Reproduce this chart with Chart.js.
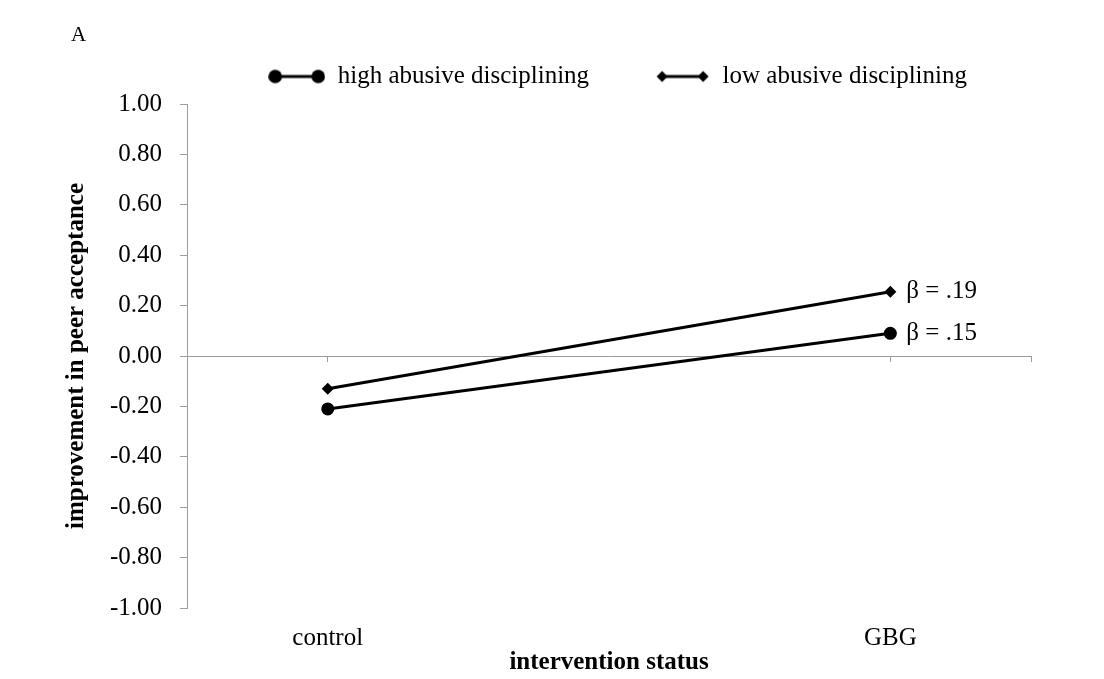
<!DOCTYPE html>
<html>
<head>
<meta charset="utf-8">
<script src="https://cdn.jsdelivr.net/npm/chart.js@4.4.1/dist/chart.umd.min.js"></script>
<style>
    html, body { margin: 0; padding: 0; background: #fff; }
    #wrap { width: 1104px; height: 679px; position: relative; }
</style>
</head>
<body>
<div id="wrap"><canvas id="chart"></canvas></div>
<script>
// x categories
const categories = ["control", "GBG"];
// y ticks
const yTicks = [-1.0, -0.8, -0.6, -0.4, -0.2, 0.0, 0.2, 0.4, 0.6, 0.8, 1.0];
// series
const seriesNames = ["high abusive disciplining", "low abusive disciplining"];
const highAbusive = [-0.21, 0.09];
const lowAbusive = [-0.13, 0.255];
// slope labels next to the GBG points
const betaLabels = ["β = .15", "β = .19"];
const panelLabel = "A";
const xTitle = "intervention status";
const yTitle = "improvement in peer acceptance";

const FONT = "'Liberation Serif', 'Times New Roman', serif";
const GRAY = "#9d9d9d";

// legend marker: line with a symbol on both ends
function legendMarker(style) {
    const c = document.createElement("canvas");
    c.width = 57;
    c.height = 16;
    const g = c.getContext("2d");
    g.strokeStyle = "#000";
    g.fillStyle = "#000";
    g.lineWidth = 3;
    g.beginPath();
    g.moveTo(7, 8);
    g.lineTo(50, 8);
    g.stroke();
    const ends = style === "circle" ? [7, 50] : [9, 50];
    ends.forEach(x => {
        g.beginPath();
        if (style === "circle") {
            g.arc(x, 8, 6.8, 0, Math.PI * 2);
        } else {
            g.moveTo(x, 2.5);
            g.lineTo(x + 5.5, 8);
            g.lineTo(x, 13.5);
            g.lineTo(x - 5.5, 8);
            g.closePath();
        }
        g.fill();
    });
    return c;
}
const markers = [legendMarker("circle"), legendMarker("diamond")];

// a bit more room under the legend
const legendGap = {
    id: "legendGap",
    beforeLayout(chart) {
        const lg = chart.legend;
        if (lg && !lg._gapPatched) {
            const fit = lg.fit;
            lg.fit = function () { fit.call(this); this.height += 5; };
            lg._gapPatched = true;
        }
    }
};

// panel letter and beta labels
const textLabels = {
    id: "textLabels",
    afterDatasetsDraw(chart) {
        const ctx = chart.ctx;
        ctx.save();
        ctx.fillStyle = "#000";
        ctx.font = "21px " + FONT;
        ctx.textBaseline = "alphabetic";
        ctx.textAlign = "left";
        ctx.fillText(panelLabel, 71, 41);

        ctx.font = "25px " + FONT;
        ctx.textBaseline = "middle";
        chart.data.datasets.forEach((d, i) => {
            const pts = chart.getDatasetMeta(i).data;
            const last = pts[pts.length - 1];
            ctx.fillText(betaLabels[i], last.x + 16, last.y);
        });
        ctx.restore();
    }
};

function toPoints(values) {
    return values.map((v, i) => ({ x: i, y: v }));
}

new Chart(document.getElementById("chart"), {
    type: "line",
    data: {
        datasets: [{
            label: seriesNames[0],
            data: toPoints(highAbusive),
            borderColor: "#000",
            backgroundColor: "#000",
            borderWidth: 3,
            pointStyle: "circle",
            pointRadius: 6.5,
            pointBorderWidth: 0,
            tension: 0
        }, {
            label: seriesNames[1],
            data: toPoints(lowAbusive),
            borderColor: "#000",
            backgroundColor: "#000",
            borderWidth: 3,
            pointStyle: "rectRot",
            pointRadius: 6,
            pointBorderWidth: 0,
            tension: 0
        }]
    },
    options: {
        responsive: true,
        maintainAspectRatio: false,
        animation: false,
        clip: false,
        layout: { padding: { left: 64, right: 73, top: 0, bottom: 3.5 } },
        scales: {
            x: {
                type: "linear",
                min: -0.25,
                max: 1.25,
                afterBuildTicks: s => { s.ticks = categories.map((c, i) => ({ value: i })); },
                ticks: {
                    font: { family: FONT, size: 25, lineHeight: 1 },
                    color: "#000",
                    padding: 17.5,
                    maxRotation: 0,
                    autoSkip: false,
                    callback: v => categories[v] ?? ""
                },
                grid: { display: false, drawTicks: false },
                border: { display: false },
                title: {
                    display: true,
                    text: xTitle,
                    color: "#000",
                    font: { family: FONT, size: 25, weight: "bold", lineHeight: 1 },
                    padding: { top: -17.5, bottom: 0 }
                }
            },
            // horizontal axis line crossing at zero
            x2: {
                type: "linear",
                axis: "x",
                position: { y: 0 },
                min: -0.25,
                max: 1.25,
                afterBuildTicks: s => { s.ticks = [0, 1, s.max].map(v => ({ value: v })); },
                ticks: { display: false },
                grid: { drawOnChartArea: false, color: GRAY, tickLength: 5 },
                border: { color: GRAY, width: 1 }
            },
            y: {
                min: -1,
                max: 1,
                afterBuildTicks: s => { s.ticks = yTicks.map(v => ({ value: v })); },
                ticks: {
                    font: { family: FONT, size: 25 },
                    color: "#000",
                    padding: 18,
                    callback: v => v.toFixed(2)
                },
                grid: { drawOnChartArea: false, color: GRAY, tickLength: 7 },
                border: { color: GRAY, width: 1 },
                title: {
                    display: true,
                    text: yTitle,
                    color: "#000",
                    font: { family: FONT, size: 25, weight: "bold", lineHeight: 1 },
                    padding: { top: 0, bottom: 3 }
                }
            }
        },
        plugins: {
            tooltip: { enabled: false },
            legend: {
                position: "top",
                align: "end",
                fullSize: false,
                labels: {
                    usePointStyle: true,
                    pointStyleWidth: 57,
                    padding: 64,
                    color: "#000",
                    font: { family: FONT, size: 25 },
                    generateLabels: chart => chart.data.datasets.map((d, i) => ({
                        text: d.label,
                        pointStyle: markers[i],
                        fillStyle: "#000",
                        strokeStyle: "#000",
                        lineWidth: 0,
                        hidden: false,
                        datasetIndex: i
                    }))
                }
            }
        }
    },
    plugins: [legendGap, textLabels]
});
</script>
</body>
</html>
